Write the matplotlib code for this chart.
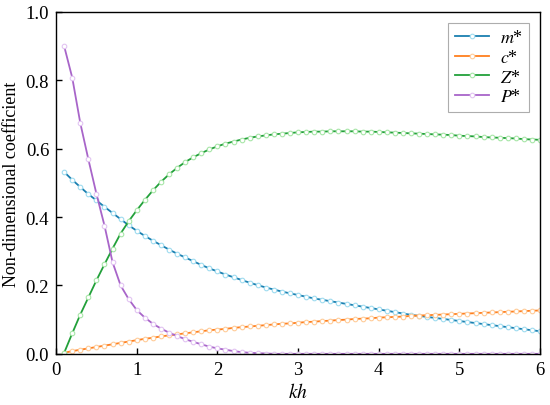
import numpy as np
import matplotlib
matplotlib.use('Agg')
import matplotlib.pyplot as plt

plt.rcParams['font.family'] = ['Liberation Serif', 'DejaVu Serif']
plt.rcParams['mathtext.fontset'] = 'stix'

# kh = 0.1 ... 6.0
kh = [round(0.1 * i, 1) for i in range(1, 61)]

m_star = [0.532, 0.509, 0.488, 0.467, 0.449, 0.430, 0.412, 0.394, 0.376, 0.360,
          0.345, 0.331, 0.318, 0.305, 0.293, 0.282, 0.271, 0.260, 0.250, 0.241,
          0.232, 0.224, 0.216, 0.208, 0.201, 0.194, 0.188, 0.182, 0.177, 0.172,
          0.167, 0.162, 0.158, 0.154, 0.150, 0.146, 0.142, 0.138, 0.134, 0.130,
          0.126, 0.122, 0.118, 0.114, 0.111, 0.108, 0.105, 0.102, 0.099, 0.096,
          0.093, 0.090, 0.087, 0.084, 0.081, 0.078, 0.075, 0.072, 0.069, 0.066]

c_star = [0.003, 0.008, 0.012, 0.016, 0.020, 0.024, 0.028, 0.032, 0.036, 0.040,
          0.044, 0.047, 0.051, 0.054, 0.057, 0.060, 0.063, 0.066, 0.069, 0.071,
          0.073, 0.076, 0.078, 0.080, 0.082, 0.084, 0.086, 0.088, 0.089, 0.091,
          0.093, 0.094, 0.096, 0.097, 0.099, 0.100, 0.102, 0.103, 0.104, 0.106,
          0.107, 0.108, 0.109, 0.111, 0.112, 0.113, 0.114, 0.115, 0.116, 0.117,
          0.118, 0.119, 0.120, 0.121, 0.122, 0.123, 0.124, 0.125, 0.126, 0.127]

z_star = [0.003, 0.060, 0.115, 0.165, 0.215, 0.262, 0.308, 0.352, 0.388, 0.420,
          0.450, 0.478, 0.503, 0.525, 0.544, 0.561, 0.575, 0.587, 0.598, 0.607,
          0.615, 0.621, 0.627, 0.632, 0.636, 0.639, 0.642, 0.644, 0.646, 0.648,
          0.649, 0.650, 0.650, 0.651, 0.651, 0.651, 0.651, 0.650, 0.650, 0.649,
          0.648, 0.647, 0.646, 0.645, 0.644, 0.643, 0.642, 0.641, 0.640, 0.638,
          0.637, 0.636, 0.634, 0.633, 0.632, 0.631, 0.630, 0.628, 0.627, 0.626]

p_star = [0.900, 0.808, 0.675, 0.569, 0.468, 0.375, 0.268, 0.200, 0.160, 0.128,
          0.106, 0.088, 0.074, 0.062, 0.052, 0.043, 0.035, 0.028, 0.021, 0.016,
          0.012, 0.008, 0.005, 0.003, 0.002, 0.001, 0.0, 0.0, 0.0, 0.0,
          0.0, 0.0, 0.0, 0.0, 0.0, 0.0, 0.0, 0.0, 0.0, 0.0,
          0.0, 0.0, 0.0, 0.0, 0.0, 0.0, 0.0, 0.0, 0.0, 0.0,
          0.0, 0.0, 0.0, 0.0, 0.0, 0.0, 0.0, 0.0, 0.0, 0.0]

labels = [r'$m$*', r'$c$*', r'$Z$*', r'$P$*']
line_colors = ['#1a7fb0', '#ff7f1e', '#22a03a', '#a865c9']
mark_colors = ['#9fdcf0', '#ffcc99', '#a8e6a8', '#e2c4f2']

fig = plt.figure(figsize=(5.5, 4.06), dpi=100)
ax = fig.add_axes([0.102, 0.126, 0.880, 0.842])

for y, lab, lc, mc in zip([m_star, c_star, z_star, p_star], labels, line_colors, mark_colors):
    ax.plot(kh, y, '-o', color=lc, lw=1.3, label=lab,
            markersize=3.3, markerfacecolor='white', markeredgecolor=mc, markeredgewidth=0.8)

ax.set_xlim(0, 6)
ax.set_ylim(0, 1.0)
ax.set_xticks([0, 1, 2, 3, 4, 5, 6])
ax.set_yticks([0.0, 0.2, 0.4, 0.6, 0.8, 1.0])
ax.tick_params(direction='in', labelsize=13.5, length=4, width=1, pad=5)
for s in ax.spines.values():
    s.set_linewidth(1.0)
ax.set_xlabel(r'$kh$', fontsize=14, labelpad=3)
ax.set_ylabel('Non-dimensional coefficient', fontsize=13, labelpad=4)

leg = ax.legend(loc='upper right', fontsize=13, fancybox=False, edgecolor='#999999',
                handlelength=1.9, borderpad=0.35, labelspacing=0.15, handletextpad=0.6,
                borderaxespad=0.6)
leg.get_frame().set_linewidth(0.8)

fig.savefig('out.png', dpi=100)
